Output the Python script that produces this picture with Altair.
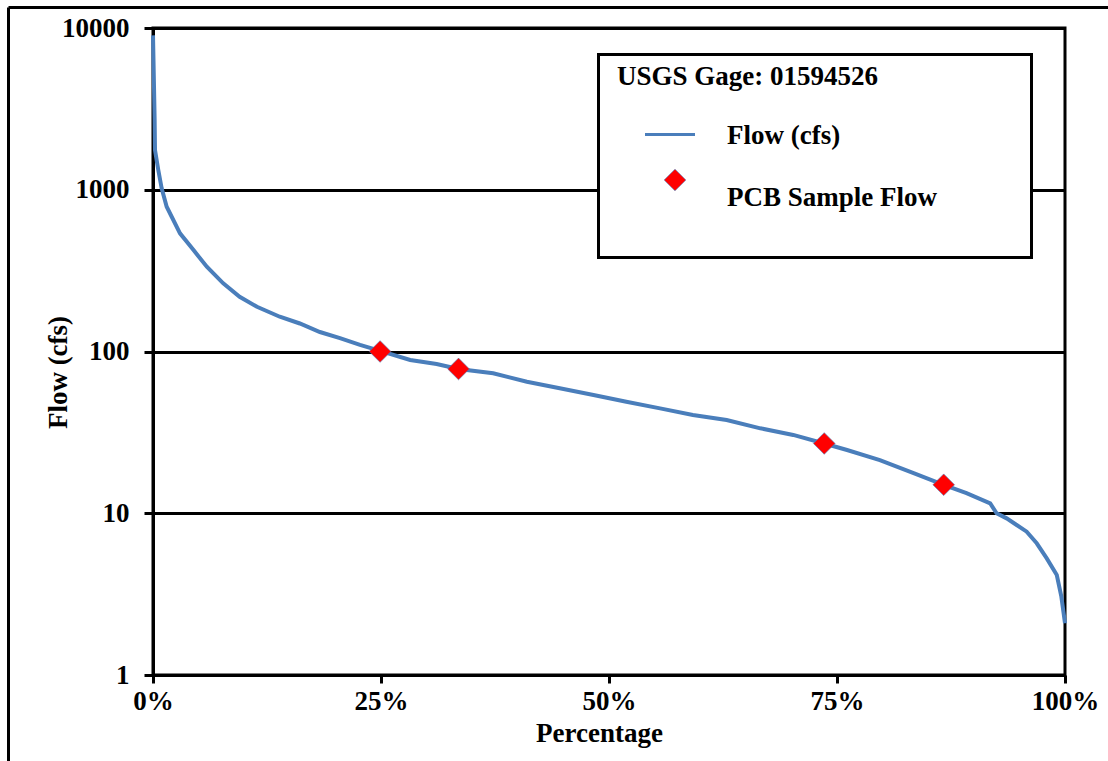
import altair as alt
import pandas as pd

# Flow duration curve (exceedance fraction, flow in cfs)
pct = [0.0, 0.0011, 0.0018, 0.0022, 0.0058, 0.0095, 0.015, 0.0205, 0.0296, 0.0442,
       0.059, 0.077, 0.095, 0.114, 0.139, 0.161, 0.183, 0.205, 0.227, 0.249,
       0.282, 0.311, 0.335, 0.373, 0.410, 0.446, 0.483, 0.519, 0.556, 0.592,
       0.629, 0.666, 0.702, 0.736, 0.761, 0.797, 0.834, 0.867, 0.892, 0.918,
       0.925, 0.936, 0.947, 0.958, 0.969, 0.980, 0.991, 0.996, 1.0]
flow = [9000, 4340, 2700, 1760, 1325, 1020, 785, 681, 538, 425,
        334, 264, 218, 189, 164, 149, 132, 121, 110, 101,
        88.6, 83.7, 78, 73.3, 65.0, 59.2, 53.8, 48.9, 44.5, 40.5,
        37.7, 33.5, 30.5, 27, 24.6, 21.3, 17.7, 15, 13.3, 11.5,
        10, 9.3, 8.46, 7.69, 6.52, 5.26, 4.15, 3.05, 2.09]

# PCB sample flows
sample_pct = [0.249, 0.335, 0.736, 0.867]
sample_flow = [100, 78, 27, 15]

x_ticks = [0, 0.25, 0.5, 0.75, 1.0]
y_ticks = [1, 10, 100, 1000, 10000]

legend_title = "USGS Gage: 01594526"
legend_labels = ["Flow (cfs)", "PCB Sample Flow"]

FONT = "'Times New Roman', 'Liberation Serif', Tinos, serif"
FS = 27
BLUE = "#4a7ebb"

curve = pd.DataFrame({"pct": pct, "flow": flow})
samples = pd.DataFrame({"pct": sample_pct, "flow": sample_flow})
one = pd.DataFrame({"k": [0]})

x_enc = alt.X("pct:Q",
              scale=alt.Scale(domain=[0, 1], nice=False, zero=False),
              axis=alt.Axis(values=x_ticks, format=".0%", title="Percentage", grid=False,
                            domainColor="black", domainWidth=3, tickColor="black", tickWidth=3,
                            tickSize=8, labelPadding=5, labelFlush=False, labelOverlap=False,
                            labelFont=FONT, labelFontSize=FS, labelFontWeight="bold", labelColor="black",
                            titleFont=FONT, titleFontSize=FS, titleFontWeight="bold", titleColor="black",
                            titleX=446, titleY=66.5, titleAlign="center", titleBaseline="alphabetic"))
y_enc = alt.Y("flow:Q",
              scale=alt.Scale(type="log", domain=[1, 10000], nice=False),
              axis=alt.Axis(values=y_ticks, format="d", title="Flow (cfs)", grid=True,
                            gridColor="black", gridWidth=3, gridOpacity=1,
                            domainColor="black", domainWidth=3, tickColor="black", tickWidth=3,
                            tickSize=9, labelPadding=15, labelFlush=False, labelOverlap=False,
                            labelFont=FONT, labelFontSize=FS, labelFontWeight="bold", labelColor="black",
                            titleFont=FONT, titleFontSize=FS, titleFontWeight="bold", titleColor="black",
                            titleAngle=270, titleX=-86.5, titleY=344, titleAlign="center",
                            titleBaseline="alphabetic"))

line = alt.Chart(curve).mark_line(color=BLUE, strokeWidth=4).encode(x=x_enc, y=y_enc)

points = alt.Chart(samples).mark_point(shape="diamond", filled=True, fill="red", opacity=1,
                                       size=470, stroke=BLUE, strokeWidth=0.6).encode(
    x=alt.X("pct:Q"), y=alt.Y("flow:Q"))

# Outer frame (top and left edges visible)
frame_left = alt.Chart(one).mark_rule(color="black", strokeWidth=3).encode(
    x=alt.value(-144.5), y=alt.value(-20.5), y2=alt.value(760))
frame_top = alt.Chart(one).mark_rule(color="black", strokeWidth=3).encode(
    x=alt.value(-144.5), x2=alt.value(960), y=alt.value(-20.5))

# Legend box
box = alt.Chart(one).mark_rect(fill="white", stroke="black", strokeWidth=3).encode(
    x=alt.value(445.5), x2=alt.value(878.5), y=alt.value(26.5), y2=alt.value(229.5))
txt_kw = dict(align="left", baseline="alphabetic", font=FONT, fontSize=FS,
              fontWeight="bold", color="black")
title_t = alt.Chart(one).mark_text(text=legend_title, **txt_kw).encode(
    x=alt.value(464), y=alt.value(57))
leg_line = alt.Chart(one).mark_rule(color=BLUE, strokeWidth=3).encode(
    x=alt.value(492), x2=alt.value(542), y=alt.value(106.5))
leg_t1 = alt.Chart(one).mark_text(text=legend_labels[0], **txt_kw).encode(
    x=alt.value(574), y=alt.value(116))
leg_pt = alt.Chart(one).mark_point(shape="diamond", filled=True, fill="red", opacity=1,
                                   size=470, stroke=BLUE, strokeWidth=0.6).encode(
    x=alt.value(522), y=alt.value(152))
leg_t2 = alt.Chart(one).mark_text(text=legend_labels[1], **txt_kw).encode(
    x=alt.value(574), y=alt.value(178))

chart = alt.layer(line, points, frame_left, frame_top, box, title_t, leg_line, leg_t1,
                  leg_pt, leg_t2).properties(
    width=912, height=647,
    padding={"left": 153, "top": 28, "right": 43, "bottom": 86},
    autosize=alt.AutoSizeParams(type="none"),
    background="white",
).configure_view(stroke="black", strokeWidth=3)

chart.save("out.html", embed_options={"renderer": "svg", "actions": False})
